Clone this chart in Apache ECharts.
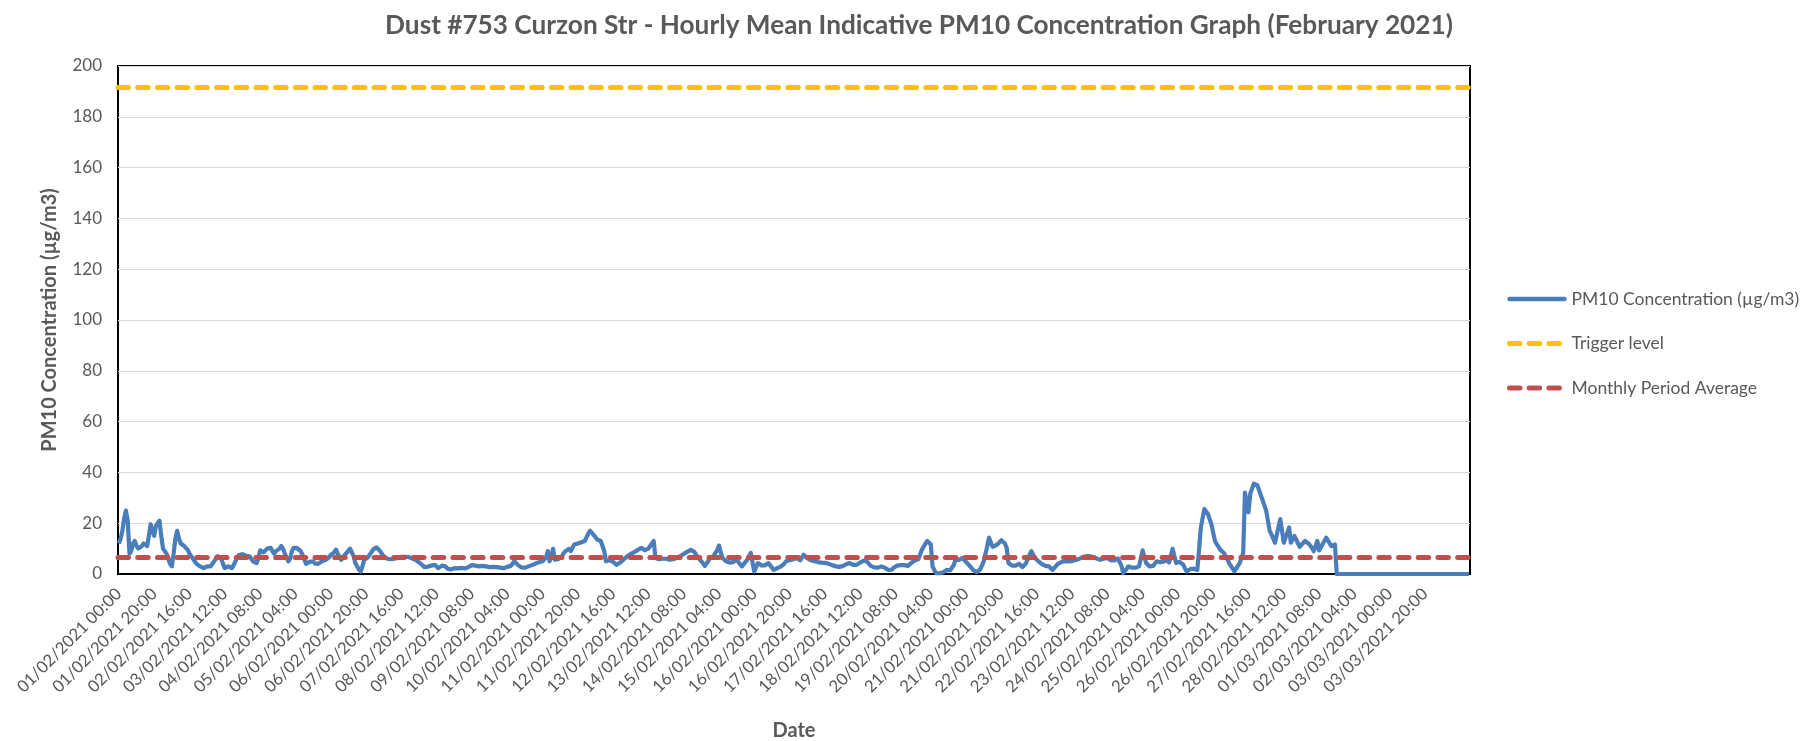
<!DOCTYPE html>
<html>
<head>
<meta charset="utf-8">
<script src="https://cdn.jsdelivr.net/npm/echarts@6/dist/echarts.min.js"></script>
<style>
html,body{margin:0;padding:0;background:#fff;}
#chart{width:1809px;height:741px;}
</style>
</head>
<body>
<div id="chart"></div>
<script>
// ---- data ----
const chartTitle = 'Dust #753 Curzon Str - Hourly Mean Indicative PM10 Concentration Graph (February 2021)';
const seriesNames = ['PM10 Concentration (µg/m3)', 'Trigger level', 'Monthly Period Average'];
const startDate = [2021, 2, 1]; // year, month (1-based), day
const hourCount = 766;
const labelStep = 20;      // one tick label every 20 hours
const lastLabelIndex = 740; // 03/03/2021 20:00 is the last labelled hour
const triggerLevel = 191.5;
const monthlyAverage = 6.6;
const yTicks = [0, 20, 40, 60, 80, 100, 120, 140, 160, 180, 200];

// hourly PM10 values (µg/m3), 20 values per row
const pm10 = [
  12,14,17,22,25,21,8,9,12,13,11,10,10.5,11,12,11.6,11,15,19.6,17,
  15,19,20,21,15,10,9,8,6,4,3,8,14,17,14,12,12.5,11,11,9.5,
  8,7,6,5,4,3.5,3,2.5,2.3,2.6,3,3.2,3,4,5,6,7,7.6,6,4,
  2.3,2.5,3,2.6,2.3,3.5,5,6.5,7.5,8,7.8,7.5,7.2,7.4,7,6,5,4.5,4.3,6,
  9.3,9,8.5,9,10,10.5,10.3,9,8,9,9.5,10,11,10,8,6.5,5,6,9,10.3,
  10,10.2,10.7,9,7.6,6,4,4.5,4.8,5.2,5,4.2,3.6,4,4.5,5,5.3,5.5,5.6,6.5,
  7.5,7.6,8.5,9.6,8,6.5,5.6,6.5,7.5,8.3,9,10,10.3,7,4.3,3,1.8,1,3,5.6,
  6,6.5,7,8.5,9.6,10,10.5,10.3,9,8,7,6.5,6,5.6,5.8,5.9,6,6.2,6.3,6.5,
  6.8,7,6.8,6.7,6.7,6.7,6.2,5.8,5.6,5,4.6,4.3,3.5,2.7,2.8,2.9,3,3.3,3.5,3.6,
  3,2.3,2.8,3.3,3.6,3,2.2,1.6,1.8,2.1,2.3,2.3,2.2,2.3,2.4,2.3,2.2,2.3,2.7,3.2,
  3.5,3.6,3.3,3.1,3,3.1,3.2,3.2,3,2.8,2.7,2.7,2.8,2.7,2.7,2.6,2.5,2.4,2.3,2.5,
  2.8,3,3.2,4,5,4.3,3.6,3.1,2.6,2.3,2.5,2.8,3,3.2,3.5,3.8,4.1,4.3,4.6,4.8,
  5,5,6.5,9,5,7,9.9,5.6,5.7,5.8,5.9,7,8.2,9,9.5,9.9,9,8.3,11.6,11.8,
  12,12.3,12.5,12.8,13,14.5,16,17,16.2,15.6,14.5,13.6,13.3,13,11,9,5,5.2,5.4,5.6,
  4.8,4.2,3.6,4,4.5,5,5.7,6.4,7,7.5,7.9,8.3,8.6,9,9.5,9.9,10.3,9.8,9.4,9,
  10,11,12,13,6.3,6,5.8,5.6,6,6.3,6,5.8,5.6,5.7,5.8,5.9,6.3,6.6,7,7.4,
  7.9,8.3,8.7,9.1,9.5,9.9,8.7,7.6,6.7,5.8,5,4.1,3.2,4.2,5.2,6.3,6.8,7.2,7.6,9.4,
  11.2,8.5,6.3,5.6,5,4.8,4.5,4.3,4.7,5.2,5.6,4.7,3.8,3,3.9,4.8,5.6,7,8.3,4.5,
  1,2.7,4.3,3.8,3.4,3,3.4,3.9,4.3,3.4,2.5,1.6,2,2.3,2.6,2.9,3.2,4.1,5,5.2,
  5.4,5.6,5.8,6,6.3,5.9,5.4,5,7.6,6.9,6.2,5.6,5.4,5.2,5,4.8,4.7,4.5,4.5,4.4,
  4.4,4.3,4,3.7,3.5,3.2,3.1,2.9,2.8,2.7,3.1,3.6,3.8,4.1,4.3,3.9,3.6,3.2,3.6,4.1,
  4.5,4.9,5.3,5.6,4.8,4,3.2,2.9,2.6,2.3,2.5,2.8,3,2.8,2.5,2.3,1.6,1,1.7,2.5,
  3.2,3.3,3.4,3.5,3.6,3.5,3.3,3.2,3.8,4.4,5,5.3,5.6,5.9,7.8,9.6,10.8,12,13,12.3,
  11.6,3,1.5,0.3,0.3,0.3,0.3,0.7,1.2,1.6,1.5,1.4,1.3,3.5,5.6,5.6,5.6,5.6,6.3,5.5,
  4.8,4,3.2,2.4,1.6,1.2,0.7,0.3,1.8,3.4,5,8,11,14.3,12.5,10.7,11,11.3,11.6,12.5,
  13.3,14,12,10.3,4.3,3.6,3.3,3,3.3,3.7,4,3.3,2.7,3.5,4.3,6,7.7,9,7.6,6.3,
  5.6,5,4.3,3.9,3.5,3.2,3.1,3,2.3,1.6,2.4,3.2,4,4.3,4.7,5,5,5,5,5,
  5.1,5.3,5.5,5.6,5.9,6.3,6.7,6.9,7,7.2,7,6.9,6.7,6.4,6.1,5.8,5.6,5.8,6,6.2,
  6.3,5.9,5.4,5,5.4,5.8,6.1,6.3,3.3,0.3,1.2,2.1,3,2.8,2.5,2.3,2.5,2.8,3,6.2,
  9.3,6.8,4.3,3.6,3,2.3,3.2,4.1,5,4.8,4.6,4.5,4.9,5.3,5.6,4.5,7.2,9.9,7.1,4.3,
  4.5,4.8,5,3.7,2.3,1,1.4,1.9,2.3,2.1,1.8,1.6,9.6,18.3,22,25.6,24.6,23.6,21.6,19.6,
  16.3,13,11.8,10.7,9.6,8.9,8.3,7.6,6,4.3,3.2,2.1,1,2.1,3.2,4.3,6.3,8.3,32,28,
  24.3,31.6,33.6,35.6,35.3,35,33,31,29,27,25,21,17,15.6,14,12.3,15.4,18.5,21.6,17,
  12.3,14.3,16.3,18.3,12.3,13.7,15,13.6,12.1,10.7,11.5,12.2,13,12.5,12,11.6,10.3,9,11,13,
  9.3,10.5,11.8,13,14.3,13.2,12.1,11,11.3,11.6,0,0,0,0,0,0,0,0,0,0,
  0,0,0,0,0,0,0,0,0,0,0,0,0,0,0,0,0,0,0,0,
  0,0,0,0,0,0,0,0,0,0,0,0,0,0,0,0,0,0,0,0,
  0,0,0,0,0,0,0,0,0,0,0,0,0,0,0,0,0,0,0,0,
  0,0,0,0,0,0
];

// hourly category labels
function pad(n){ return (n < 10 ? '0' : '') + n; }
const categories = [];
for (let i = 0; i < hourCount; i++) {
  const d = new Date(Date.UTC(startDate[0], startDate[1] - 1, startDate[2], i));
  categories.push(pad(d.getUTCDate()) + '/' + pad(d.getUTCMonth() + 1) + '/' + d.getUTCFullYear() + ' ' + pad(d.getUTCHours()) + ':00');
}

// ---- chart ----
const FONT = 'Lato, "Open Sans", sans-serif';
const GREY = '#595959';
const BLUE = '#4a7ebb', ORANGE = '#ffc000', RED = '#c0504d';
const DASH = [10.5, 9.2];
const chart = echarts.init(document.getElementById('chart'), null, {renderer: 'canvas'});
chart.setOption({
  animation: false,
  backgroundColor: '#fff',
  title: {
    text: chartTitle,
    left: 914, top: 8, textAlign: 'center',
    textStyle: {fontFamily: FONT, fontSize: 26.2, fontWeight: 'bold', color: GREY}
  },
  grid: {
    left: 118, right: 339, top: 66, bottom: 167,
    containLabel: false, outerBoundsMode: 'none',
    show: true, borderColor: '#000', borderWidth: 2, backgroundColor: 'transparent'
  },
  legend: {
    orient: 'vertical', left: 1507, top: 290, padding: 0,
    itemWidth: 55, itemHeight: 14, itemGap: 26.5,
    data: [
      {name: seriesNames[0], itemStyle: {opacity: 0}, lineStyle: {color: BLUE, width: 4.5, cap: 'round'}},
      {name: seriesNames[1], itemStyle: {opacity: 0}, lineStyle: {color: ORANGE, width: 5, type: DASH, cap: 'round'}},
      {name: seriesNames[2], itemStyle: {opacity: 0}, lineStyle: {color: RED, width: 5, type: DASH, cap: 'round'}}
    ],
    textStyle: {fontFamily: FONT, fontSize: 17.5, color: GREY, padding: [0, 0, 0, 2]}
  },
  xAxis: {
    type: 'category', data: categories, boundaryGap: true,
    name: 'Date', nameLocation: 'middle', nameGap: 147,
    nameTextStyle: {fontFamily: FONT, fontSize: 20, fontWeight: 'bold', color: GREY},
    axisLine: {show: true, lineStyle: {color: '#000', width: 2}},
    axisTick: {show: false},
    axisLabel: {
      interval: function (index) { return index % labelStep === 0 && index <= lastLabelIndex; },
      rotate: 45, margin: 17, fontFamily: FONT, fontSize: 16.7, color: GREY
    }
  },
  yAxis: {
    type: 'value', min: yTicks[0], max: yTicks[yTicks.length - 1], interval: 20,
    name: 'PM10 Concentration (µg/m3)', nameLocation: 'middle', nameGap: 58, nameRotate: 90,
    nameTextStyle: {fontFamily: FONT, fontSize: 20, fontWeight: 'bold', color: GREY},
    axisLine: {show: false}, axisTick: {show: false},
    axisLabel: {margin: 16, fontFamily: FONT, fontSize: 17, color: GREY},
    splitLine: {lineStyle: {color: '#d9d9d9', width: 1}}
  },
  series: [
    {
      name: seriesNames[0], type: 'line', data: pm10, symbol: 'none', showSymbol: false,
      color: BLUE, lineStyle: {color: BLUE, width: 4.2, join: 'round'}, z: 2
    },
    {
      name: seriesNames[1], type: 'line', data: [], symbol: 'none',
      color: ORANGE, lineStyle: {color: ORANGE, width: 5, type: DASH},
      markLine: {silent: true, symbol: ['none', 'none'], label: {show: false}, z: 5,
        lineStyle: {color: ORANGE, width: 5, type: DASH, cap: 'round'},
        data: [{yAxis: triggerLevel}]}
    },
    {
      name: seriesNames[2], type: 'line', data: [], symbol: 'none',
      color: RED, lineStyle: {color: RED, width: 5, type: DASH},
      markLine: {silent: true, symbol: ['none', 'none'], label: {show: false}, z: 5,
        lineStyle: {color: RED, width: 5, type: DASH, cap: 'round'},
        data: [{yAxis: monthlyAverage}]}
    }
  ]
});
</script>
</body>
</html>
